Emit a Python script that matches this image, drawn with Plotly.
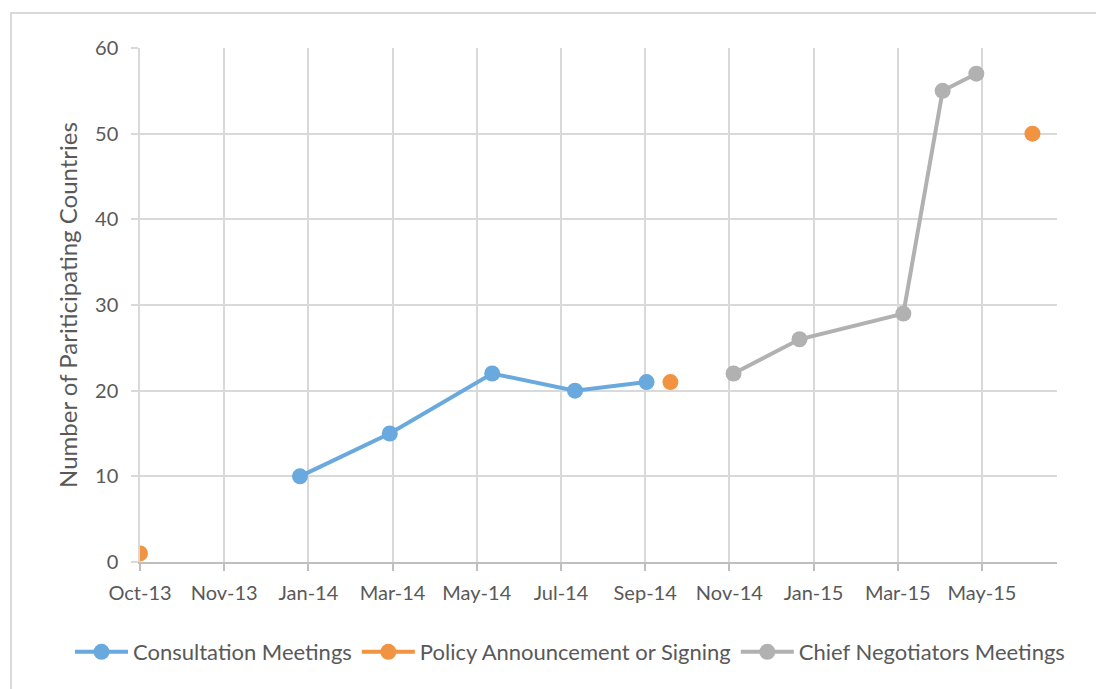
import plotly.graph_objects as go

# Data
consult_dates = ["2014-01-23", "2014-03-28", "2014-06-09", "2014-08-07", "2014-09-27"]
consult_vals = [10, 15, 22, 20, 21]

policy_dates = ["2013-10-01", "2014-10-14", "2015-06-29"]
policy_vals = [1, 21, 50]

chief_dates = ["2014-11-28", "2015-01-14", "2015-03-29", "2015-04-26", "2015-05-20"]
chief_vals = [22, 26, 29, 55, 57]

BLUE = "#69A9DD"
ORANGE = "#F29341"
GRAY = "#B1B1B1"
TXT = "#595959"
FONT = "Lato"

W, H = 1096, 681  # page has 8px body margin

fig = go.Figure()
fig.add_trace(go.Scatter(x=consult_dates, y=consult_vals, mode="lines+markers",
                         name="Consultation Meetings",
                         line=dict(color=BLUE, width=4),
                         marker=dict(color=BLUE, size=16)))
fig.add_trace(go.Scatter(x=policy_dates, y=policy_vals, mode="markers",
                         name="Policy Announcement or Signing", showlegend=False,
                         marker=dict(color=ORANGE, size=16)))
# legend entry for the orange series (drawn as line + marker like the reference)
fig.add_trace(go.Scatter(x=[None], y=[None], mode="lines+markers",
                         name="Policy Announcement or Signing",
                         line=dict(color=ORANGE, width=4),
                         marker=dict(color=ORANGE, size=16)))
fig.add_trace(go.Scatter(x=chief_dates, y=chief_vals, mode="lines+markers",
                         name="Chief Negotiators Meetings",
                         line=dict(color=GRAY, width=4),
                         marker=dict(color=GRAY, size=16)))

pl, pr, pt, pb = 132, 47, 40, 127
pw, ph = W - pl - pr, H - pt - pb

fig.update_layout(
    width=W, height=H,
    margin=dict(l=pl, r=pr, t=pt, b=pb),
    paper_bgcolor="white", plot_bgcolor="white",
    font=dict(family=FONT, size=20, color=TXT),
    showlegend=True,
    legend=dict(orientation="h",
                x=(62 - pl) / pw, xanchor="left",
                y=(pt + ph - 644) / ph, yanchor="middle",
                font=dict(size=22, color=TXT), itemwidth=53,
                tracegroupgap=0),
    xaxis=dict(type="date",
               range=["2013-10-01", "2015-07-16 12:00"],
               tick0="2013-10-01", dtick=60 * 86400000,
               tickformat="%b-%y",
               showgrid=True, gridcolor="#D9D9D9", gridwidth=1.5,
               showline=True, linecolor="#BFBFBF", linewidth=2,
               ticks="outside", ticklen=7, tickcolor="#BFBFBF", tickwidth=1.5,
               ticklabelstandoff=5,
               tickfont=dict(size=20, color=TXT), zeroline=False),
    yaxis=dict(range=[0, 60], dtick=10,
               showgrid=True, gridcolor="#D9D9D9", gridwidth=1.5,
               showline=True, linecolor="#D9D9D9", linewidth=1.5,
               ticks="outside", ticklen=7, tickcolor="#D9D9D9", tickwidth=1.5,
               ticklabelstandoff=9,
               tickfont=dict(size=20, color=TXT), zeroline=False,
               title=dict(text="Number of Pariticipating Countries",
                          font=dict(size=24, color=TXT), standoff=11)),
    shapes=[dict(type="rect", xref="paper", yref="paper",
                 x0=(3 - pl) / pw, x1=1.2,
                 y0=-0.5, y1=(pt + ph - 5) / ph,
                 line=dict(color="#D9D9D9", width=2), layer="below")],
)

fig.write_html("out.html")
